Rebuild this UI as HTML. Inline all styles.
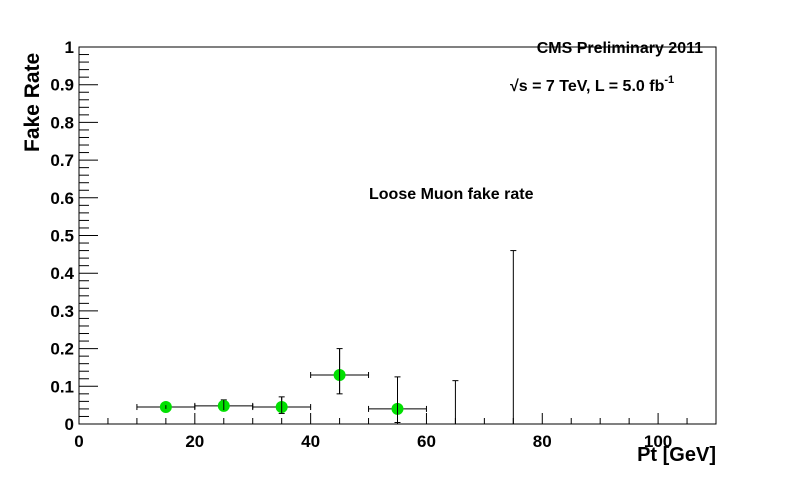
<!DOCTYPE html>
<html><head><meta charset="utf-8"><style>
body{margin:0;background:#fff}
svg text{font-family:"Liberation Sans",Arial,sans-serif;font-weight:bold}
</style></head><body>
<svg id="c" width="796" height="472" xmlns="http://www.w3.org/2000/svg">
<rect x="79" y="47" width="637" height="377" fill="none" stroke="#000" stroke-width="1"/>
<g id="axes"></g><g id="marks"></g>
<text x="716" y="461" font-size="20" text-anchor="end">Pt [GeV]</text>
<text transform="translate(39,152) rotate(-90)" font-size="21" text-anchor="start">Fake Rate</text>
<text x="703" y="53" font-size="16" text-anchor="end">CMS Preliminary 2011</text>
<text x="510" y="91" font-size="16">√s = 7 TeV, L = 5.0 fb<tspan dy="-8" font-size="11">-1</tspan></text>
<text x="369" y="199" font-size="16">Loose Muon fake rate</text>
</svg>
<script>
const xCenters=[15,25,35,45,55,65,75];
const xHalfWidth=[5,5,5,5,5,0,0];
const yValues=[0.045,0.048,0.045,0.13,0.04,0,0];
const yLow=[0.040,0.037,0.028,0.080,0.004,0,0];
const yHigh=[0.050,0.064,0.072,0.200,0.125,0.115,0.46];
const hasMarker=[1,1,1,1,1,0,0];
const xTicks=[0,20,40,60,80,100];
const yTicks=[0,0.1,0.2,0.3,0.4,0.5,0.6,0.7,0.8,0.9,1];
const yTickLabels=["0","0.1","0.2","0.3","0.4","0.5","0.6","0.7","0.8","0.9","1"];
const X0=79,X1=716,Y0=424,Y1=47,XMAX=110;
const xs=v=>X0+(X1-X0)*v/XMAX, ys=v=>Y0-(Y0-Y1)*v;
const NS="http://www.w3.org/2000/svg";
const ax=document.getElementById('axes'),mk=document.getElementById('marks');
function ln(p,x1,y1,x2,y2,w){const l=document.createElementNS(NS,'line');l.setAttribute('x1',x1);l.setAttribute('y1',y1);l.setAttribute('x2',x2);l.setAttribute('y2',y2);l.setAttribute('stroke','#000');l.setAttribute('stroke-width',w||1);p.appendChild(l);return l;}
function tx(p,x,y,s,anchor,size){const t=document.createElementNS(NS,'text');t.setAttribute('x',x);t.setAttribute('y',y);t.setAttribute('text-anchor',anchor);t.setAttribute('font-size',size);t.textContent=s;p.appendChild(t);return t;}
for(let v=0;v<=XMAX;v+=5){const major=v%20===0;const l=ln(ax,xs(v),Y0,xs(v),Y0-(major?11:6));

}
for(let i=0;i<=50;i++){const v=i*0.02;const major=i%5===0;const l=ln(ax,X0,ys(v),X0+(major?19:10),ys(v));

}
xTicks.forEach(v=>{const t=tx(ax,xs(v),447,String(v),'middle',17);

});
yTicks.forEach((v,i)=>{const t=tx(ax,74,ys(v)+6,yTickLabels[i],'end',17);

});
xCenters.forEach((c,i)=>{
 const g=document.createElementNS(NS,'g');
 
 
 mk.appendChild(g);
 const cx=xs(c),cy=ys(yValues[i]);
 if(xHalfWidth[i]>0){const a=xs(c-xHalfWidth[i]),b=xs(c+xHalfWidth[i]);ln(g,a,cy,b,cy);ln(g,a,cy-3,a,cy+3);ln(g,b,cy-3,b,cy+3);}
 ln(g,cx,ys(yLow[i]),cx,ys(yHigh[i]));
 ln(g,cx-3,ys(yHigh[i]),cx+3,ys(yHigh[i]));
 if(yLow[i]>0)ln(g,cx-3,ys(yLow[i]),cx+3,ys(yLow[i]));
 if(hasMarker[i]){const m=document.createElementNS(NS,'circle');m.setAttribute('cx',cx);m.setAttribute('cy',cy);m.setAttribute('r',6);m.setAttribute('fill','#00e000');g.appendChild(m);
 ln(g,cx,ys(yLow[i]),cx,ys(yHigh[i]));}
});
</script>
</body></html>
